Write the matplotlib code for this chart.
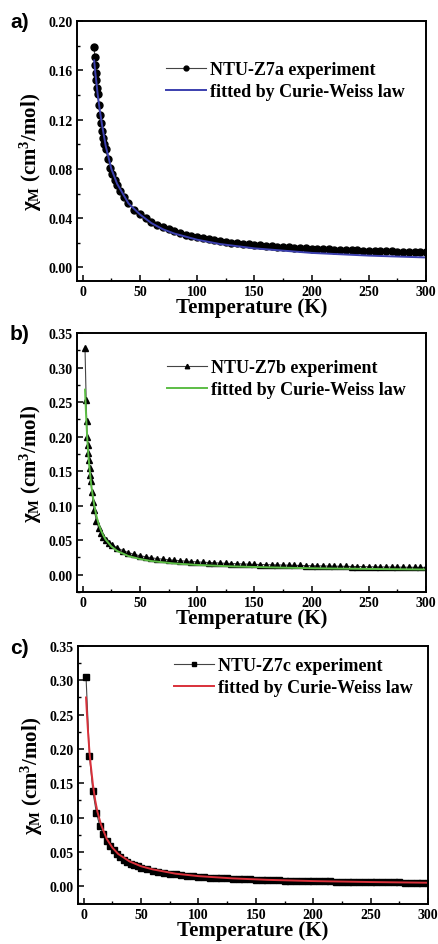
import numpy as np
import matplotlib
matplotlib.use("Agg")
import matplotlib.pyplot as plt
from matplotlib.ticker import MultipleLocator, FormatStrFormatter

plt.rcParams['font.family'] = ['Liberation Serif', 'DejaVu Serif']
plt.rcParams['font.weight'] = 'bold'
plt.rcParams['mathtext.fontset'] = 'custom'
plt.rcParams['mathtext.rm'] = 'Liberation Serif:bold'
plt.rcParams['mathtext.it'] = 'Liberation Serif:bold'
plt.rcParams['mathtext.bf'] = 'Liberation Serif:bold'

# ---------------------------------------------------------
# data (T in K, chi_M in cm^3/mol)
# ---------------------------------------------------------

T_a = [10, 10.5, 11, 11.5, 12, 12.5, 13, 14, 15, 16, 17, 18, 19, 20, 22, 24, 26, 28, 30,
       33, 36, 40, 45, 50, 55, 60, 65, 70, 75, 80, 85, 90, 95, 100, 105, 110, 115, 120,
       125, 130, 135, 140, 145, 150, 155, 160, 165, 170, 175, 180, 185, 190, 195, 200,
       205, 210, 215, 220, 225, 230, 235, 240, 245, 250, 255, 260, 265, 270, 275, 280,
       285, 290, 295, 300]
chi_a = [0.179, 0.171, 0.164, 0.158, 0.152, 0.146, 0.141, 0.132, 0.124, 0.117, 0.111,
         0.105, 0.100, 0.096, 0.088, 0.081, 0.076, 0.071, 0.067, 0.062, 0.057, 0.052,
         0.047, 0.043, 0.040, 0.037, 0.0345, 0.0325, 0.0308, 0.0292, 0.0278, 0.0265,
         0.0254, 0.0245, 0.0236, 0.0228, 0.0221, 0.0214, 0.0208, 0.0202, 0.0197, 0.0192,
         0.0187, 0.0183, 0.0179, 0.0175, 0.0172, 0.0168, 0.0165, 0.0162, 0.0160, 0.0157,
         0.0155, 0.0152, 0.0150, 0.0148, 0.0146, 0.0144, 0.0142, 0.0141, 0.0139, 0.0138,
         0.0136, 0.0135, 0.0134, 0.0132, 0.0131, 0.0130, 0.0129, 0.0128, 0.0127, 0.0126,
         0.0125, 0.0124]
Tfit_a = [10, 11, 12, 13, 15, 17, 20, 25, 30, 40, 50, 60, 70, 80, 100, 120, 150, 200, 250, 300]
fit_a = [0.168, 0.158, 0.150, 0.141, 0.127, 0.115, 0.099, 0.080, 0.068, 0.052, 0.043,
         0.036, 0.031, 0.0275, 0.0225, 0.0190, 0.0155, 0.0118, 0.0096, 0.0081]

T_b = [2, 3, 3.5, 4, 4.5, 5, 5.5, 6, 6.5, 7, 8, 9, 10, 12, 14, 16, 18, 20, 23, 26, 30,
       35, 40, 45, 50, 55, 60, 65, 70, 75, 80, 85, 90, 95, 100, 105, 110, 115, 120, 125,
       130, 135, 140, 145, 150, 155, 160, 165, 170, 175, 180, 185, 190, 195, 200, 205,
       210, 215, 220, 225, 230, 235, 240, 245, 250, 255, 260, 265, 270, 275, 280, 285,
       290, 295, 300]
chi_b = [0.328, 0.253, 0.222, 0.200, 0.188, 0.176, 0.166, 0.155, 0.145, 0.136, 0.120,
         0.105, 0.094, 0.078, 0.067, 0.060, 0.054, 0.050, 0.046, 0.043, 0.039, 0.035,
         0.032, 0.0295, 0.0275, 0.026, 0.0245, 0.0234, 0.0225, 0.0217, 0.0210, 0.0203,
         0.0197, 0.0191, 0.0186, 0.0181, 0.0177, 0.0173, 0.0169, 0.0165, 0.0162, 0.0159,
         0.0156, 0.0153, 0.0150, 0.0148, 0.0146, 0.0144, 0.0142, 0.0140, 0.0138, 0.0136,
         0.0134, 0.0132, 0.0130, 0.0128, 0.0127, 0.0125, 0.0124, 0.0122, 0.0121, 0.0119,
         0.0118, 0.0117, 0.0115, 0.0114, 0.0113, 0.0112, 0.0111, 0.0110, 0.0109, 0.0108,
         0.0107, 0.0106, 0.0105]
Tfit_b = [2, 3, 4, 5, 6, 7, 8, 10, 12, 14, 16, 18, 20, 25, 30, 40, 50, 60, 80, 100, 130,
          160, 200, 250, 300]
fit_b = [0.268, 0.228, 0.196, 0.172, 0.153, 0.137, 0.123, 0.101, 0.085, 0.073, 0.064,
         0.057, 0.051, 0.041, 0.0345, 0.0270, 0.0228, 0.0198, 0.0163, 0.0142, 0.0121,
         0.0108, 0.0094, 0.0084, 0.0076]

T_c = [2, 5, 8, 11, 14, 17, 20, 23, 26, 29, 32, 35, 38, 41, 44, 47, 50, 55, 60, 65, 70,
       75, 80, 85, 90, 95, 100, 105, 110, 115, 120, 125, 130, 135, 140, 145, 150, 155,
       160, 165, 170, 175, 180, 185, 190, 195, 200, 205, 210, 215, 220, 225, 230, 235,
       240, 245, 250, 255, 260, 265, 270, 275, 280, 285, 290, 295, 300]
chi_c = [0.305, 0.190, 0.138, 0.107, 0.088, 0.076, 0.066, 0.058, 0.052, 0.047, 0.043,
         0.0385, 0.0355, 0.033, 0.031, 0.029, 0.027, 0.0245, 0.0225, 0.0208, 0.0194,
         0.0182, 0.0171, 0.0161, 0.0153, 0.0145, 0.0138, 0.0132, 0.0126, 0.0121, 0.0116,
         0.0112, 0.0108, 0.0104, 0.0101, 0.0098, 0.0095, 0.0092, 0.0089, 0.0087, 0.0085,
         0.0082, 0.0080, 0.0078, 0.0076, 0.0075, 0.0073, 0.0071, 0.0070, 0.0068, 0.0067,
         0.0065, 0.0064, 0.0063, 0.0061, 0.0060, 0.0059, 0.0058, 0.0057, 0.0056, 0.0055,
         0.0054, 0.0053, 0.0052, 0.0051, 0.0050, 0.0049]
Tfit_c = [2, 3, 4, 5, 6, 8, 10, 12, 15, 20, 25, 30, 40, 50, 60, 80, 100, 130, 160, 200,
          250, 300]
fit_c = [0.275, 0.245, 0.218, 0.196, 0.178, 0.148, 0.125, 0.108, 0.090, 0.069, 0.056,
         0.047, 0.036, 0.029, 0.0245, 0.0182, 0.0146, 0.0113, 0.0092, 0.0074, 0.0060,
         0.0050]

# ---------------------------------------------------------
# plotting
# ---------------------------------------------------------

W, H = 438, 945
fig = plt.figure(figsize=(W / 100, H / 100), dpi=100)

panels = [
    # label, T, chi, Tfit, fit, marker, ms, colour, legend text, ylim, ystep, box px, legend top/right px
    ("a)", T_a, chi_a, Tfit_a, fit_a, "o", 5.0, "#3b3fae", "NTU-Z7a experiment",
     (-0.011, 0.20), 0.04, (77, 22, 426, 282), 62, 405),
    ("b)", T_b, chi_b, Tfit_b, fit_b, "^", 4.6, "#5cbd45", "NTU-Z7b experiment",
     (-0.025, 0.35), 0.05, (77, 334, 426, 593), 360, 406),
    ("c)", T_c, chi_c, Tfit_c, fit_c, "s", 4.6, "#d9303a", "NTU-Z7c experiment",
     (-0.026, 0.35), 0.05, (78, 647, 428, 905), 658, 413),
]

for (lab, T, chi, Tf, fit, mk, ms, col, name, ylim, ystep, box, leg_top, leg_right) in panels:
    x0, y0, x1, y1 = box
    ax = fig.add_axes([x0 / W, 1 - y1 / H, (x1 - x0) / W, (y1 - y0) / H])

    ax.plot(T, chi, color="#444444", lw=0.8, marker=mk, ms=ms, mfc="black", mec="black",
            label=name)
    ax.plot(Tf, fit, color=col, lw=1.4, label="fitted by Curie-Weiss law")

    ax.set_xlim(-5, 300)
    ax.set_ylim(*ylim)
    ax.xaxis.set_major_locator(MultipleLocator(50))
    ax.xaxis.set_minor_locator(MultipleLocator(25))
    ax.yaxis.set_major_locator(MultipleLocator(ystep))
    ax.yaxis.set_minor_locator(MultipleLocator(ystep / 2))
    ax.yaxis.set_major_formatter(FormatStrFormatter("%.2f"))
    ax.tick_params(which="both", direction="in", top=False, right=False, labelsize=10,
                   pad=3)
    ax.tick_params(which="major", length=4.5, width=1.1)
    ax.tick_params(which="minor", length=2.5, width=1.0)
    for sp in ax.spines.values():
        sp.set_linewidth(1.4)

    ax.set_xlabel("Temperature (K)", fontsize=15, fontweight="bold", labelpad=-1)
    ax.set_ylabel(r"$\chi_{\rm M}$ (cm$^{3}$/mol)", fontsize=15, fontweight="bold",
                  labelpad=3)

    ax.legend(loc="upper right", frameon=False, fontsize=13, handlelength=2.2,
              handletextpad=0.25, labelspacing=0.3, borderpad=0, borderaxespad=0,
              markerscale=0.7,
              bbox_to_anchor=((leg_right - x0) / (x1 - x0), 1 - (leg_top - y0) / (y1 - y0)))

    fig.text(10 / W, 1 - (y0 + 1) / H, lab, family="Liberation Sans", fontweight="bold",
             fontsize=15, va="center", ha="left")

fig.savefig("out.png", dpi=100)
